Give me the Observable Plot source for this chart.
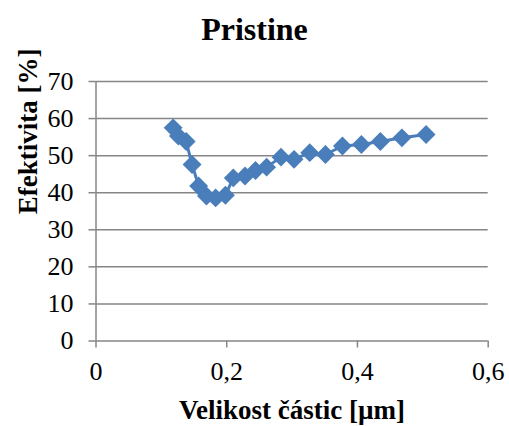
<!DOCTYPE html>
<html><head><meta charset="utf-8">
<script src="https://cdn.jsdelivr.net/npm/d3@7"></script>
<script src="https://cdn.jsdelivr.net/npm/@observablehq/plot@0.6"></script>
<style>
body{margin:0;background:#fff;}
#title{width:509px;height:42px;padding-top:13px;font:bold 32px/1 "Liberation Serif","Times New Roman",serif;text-align:center;color:#000;}
</style></head><body>
<div id="title">Pristine</div>
<div id="chart"></div>
<script>
const sizes = [0.118,0.126,0.138,0.147,0.157,0.169,0.183,0.198,0.210,0.228,0.244,0.261,0.283,0.303,0.327,0.351,0.377,0.406,0.435,0.468,0.505];
const efficiency = [57.5,55.3,53.8,47.6,41.8,39.1,38.6,39.3,44.0,44.5,46.0,46.9,49.6,49.0,50.8,50.3,52.6,53.0,53.8,54.8,55.7];
const xTicks = [0,0.2,0.4,0.6];
const yTicks = [0,10,20,30,40,50,60,70];
const xLabel = "Velikost částic [µm]";
const yLabel = "Efektivita [%]";

const data = sizes.map((x, i) => ({x, y: efficiency[i]}));
const blue = "#4a7ebb";
const gray = "#868686";

const chart = Plot.plot({
  width: 509,
  height: 371,
  marginTop: 26,
  marginBottom: 85.5,
  marginLeft: 95.5,
  marginRight: 21.3,
  style: {fontFamily: '"Liberation Serif","Times New Roman",serif', fontSize: "26px", color: "#000", background: "#fff", overflow: "visible"},
  x: {domain: [0, 0.6]},
  y: {domain: [0, 70]},
  marks: [
    Plot.gridY(yTicks, {stroke: gray, strokeOpacity: 1, strokeWidth: 1.5}),
    Plot.ruleX([0], {stroke: gray, strokeWidth: 1.5}),
    Plot.axisY(yTicks, {tickSize: 7, tickPadding: 15.5, stroke: gray, strokeWidth: 1.5, fill: "#000", fontSize: 26, label: null}),
    Plot.axisX(xTicks, {tickSize: 7, tickPadding: 14, stroke: gray, strokeWidth: 1.5, fill: "#000", fontSize: 26, label: null,
      tickFormat: d => String(d).replace(".", ",")}),
    Plot.line(data, {x: "x", y: "y", stroke: blue, strokeWidth: 3}),
    Plot.dot(data, {x: "x", y: "y", symbol: "diamond2", r: 8.5, fill: blue, stroke: null}),
    Plot.text([yLabel], {frameAnchor: "left", rotate: -90, dx: -67.5, dy: 3, lineAnchor: "middle", fontSize: 27, fontWeight: "bold", fill: "#000"}),
    Plot.text([xLabel], {frameAnchor: "bottom", lineAnchor: "middle", dy: 69, fontSize: 27, fontWeight: "bold", fill: "#000"})
  ]
});
document.getElementById("chart").appendChild(chart);
</script>
</body></html>
